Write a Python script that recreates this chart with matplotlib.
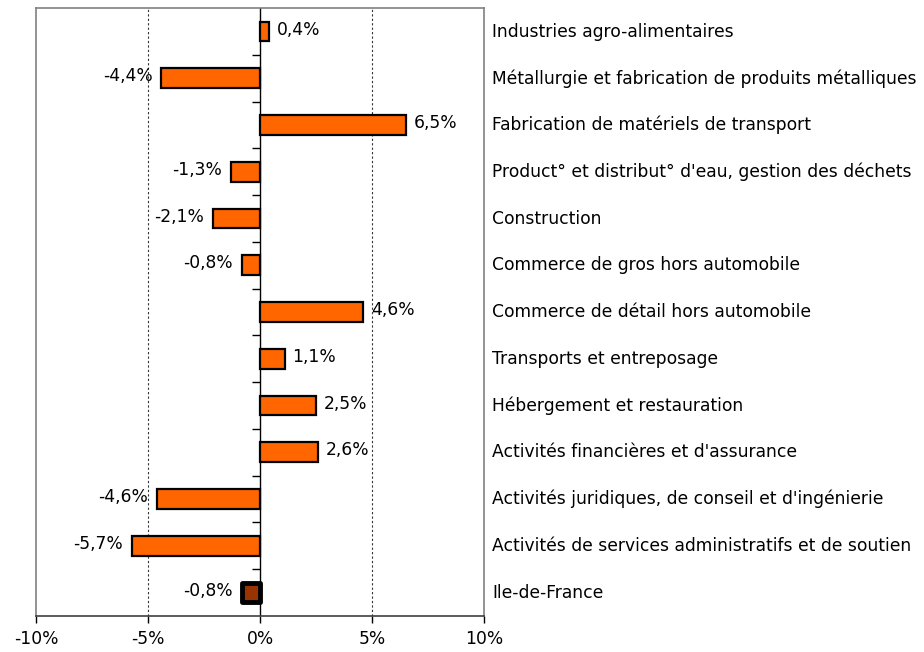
import numpy as np
import matplotlib.pyplot as plt
from matplotlib.ticker import FuncFormatter

sectors = [
    "Industries agro-alimentaires",
    "Métallurgie et fabrication de produits métalliques",
    "Fabrication de matériels de transport",
    "Product° et distribut° d'eau, gestion des déchets",
    "Construction",
    "Commerce de gros hors automobile",
    "Commerce de détail hors automobile",
    "Transports et entreposage",
    "Hébergement et restauration",
    "Activités financières et d'assurance",
    "Activités juridiques, de conseil et d'ingénierie",
    "Activités de services administratifs et de soutien",
    "Ile-de-France",
]
values = [0.4, -4.4, 6.5, -1.3, -2.1, -0.8, 4.6, 1.1, 2.5, 2.6, -4.6, -5.7, -0.8]
xticks = [-10, -5, 0, 5, 10]

plt.rcParams['font.family'] = ['DejaVu Sans']
fs = 12.3

fig = plt.figure(figsize=(9.24, 6.52), dpi=100)
ax = fig.add_axes([36/924, 1 - 616/652, 448/924, 608/652])

n = len(values)
y = np.arange(n)
colors = ['#FF6600'] * (n - 1) + ['#993300']
edges_w = [1.6] * (n - 1) + [3.5]
bars = ax.barh(y, values, height=0.42, color=colors, edgecolor='black',
               linewidth=edges_w, zorder=3)
bars[-1].set_joinstyle('round')

ax.set_xlim(-10, 10)
ax.set_ylim(n - 0.5, -0.5)

# value labels
for yi, v in zip(y, values):
    txt = f"{v:.1f}%".replace('.', ',')
    if v >= 0:
        ax.text(v + 0.35, yi - 0.04, txt, va='center', ha='left', fontsize=fs, zorder=4)
    else:
        ax.text(v - 0.4, yi - 0.04, txt, va='center', ha='right', fontsize=fs, zorder=4)

# grid & zero line
for gx in [-5, 5]:
    ax.axvline(gx, color='#333333', linestyle=(0, (2, 2)), linewidth=0.8, zorder=1)
ax.axvline(0, color='black', linewidth=1.0, zorder=2)
for b in np.arange(n - 1) + 0.5:
    ax.plot([-0.35, 0], [b, b], color='black', linewidth=1.0, zorder=2,
            solid_capstyle='butt')

ax.set_xticks(xticks)
ax.xaxis.set_major_formatter(FuncFormatter(lambda v, p: f"{v:.0f}%"))
ax.tick_params(axis='x', direction='out', length=5, width=1, labelsize=fs, pad=5)

ax.set_yticks(y - 0.04)
ax.set_yticklabels(sectors)
ax.yaxis.tick_right()
ax.tick_params(axis='y', length=0, labelsize=fs, pad=6)

for s in ['top', 'left', 'right']:
    ax.spines[s].set_color('#808080')
    ax.spines[s].set_linewidth(1.2)
ax.spines['bottom'].set_color('#404040')
ax.spines['bottom'].set_linewidth(1.2)

fig.savefig('out.png', dpi=100)
